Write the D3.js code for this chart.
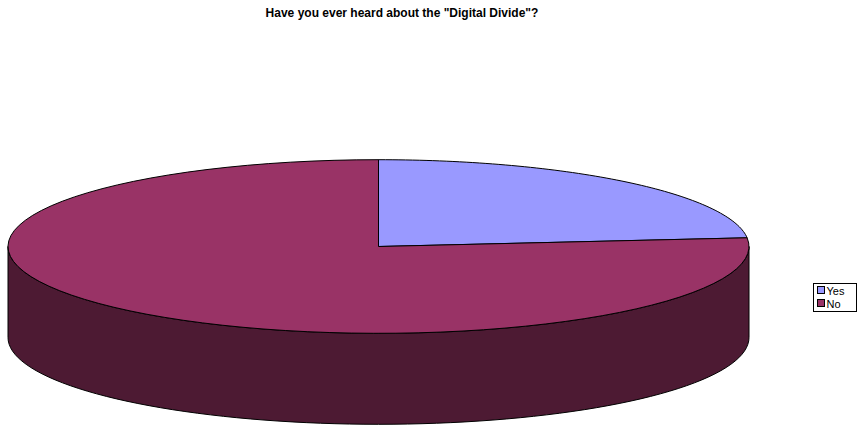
<!DOCTYPE html>
<html>
<head>
<meta charset="utf-8">
<script src="https://cdn.jsdelivr.net/npm/d3@7"></script>
<style>
  body { margin: 0; background: #fff; }
  svg { display: block; font-family: Arial, "Liberation Sans", sans-serif; }
</style>
</head>
<body>
<svg id="chart" width="858" height="426"></svg>
<script>
const title = 'Have you ever heard about the "Digital Divide"?';
const categories = ["Yes", "No"];
const values = [23.4, 76.6];
const topColors = ["#9999ff", "#993366"];
const sideColors = ["#4d4d80", "#4d1a33"];

const svg = d3.select("#chart");

svg.append("text")
  .attr("x", 402).attr("y", 17)
  .attr("text-anchor", "middle")
  .attr("font-size", 12).attr("font-weight", "bold")
  .text(title);

// 3D pie geometry
const cx = 378.5, cy = 246.5, rx = 370.5, ry = 86.8, depth = 91;

const pie = d3.pie().sort(null).value(d => d)(values);

// pie angle (from 12 o'clock, clockwise) -> point on ellipse
const px = a => cx + rx * Math.sin(a);
const py = (a, dy = 0) => cy - ry * Math.cos(a) + dy;

function arcPts(a0, a1, dy, n = 80) {
  return d3.range(n + 1).map(i => {
    const a = a0 + (a1 - a0) * i / n;
    return [px(a), py(a, dy)];
  });
}

const g = svg.append("g");

// visible side walls: front half, angles PI/2 .. 3PI/2
pie.forEach((s, i) => {
  const a0 = Math.max(s.startAngle, Math.PI / 2);
  const a1 = Math.min(s.endAngle, 3 * Math.PI / 2);
  if (a1 <= a0) return;
  const top = arcPts(a0, a1, 0);
  const bot = arcPts(a1, a0, depth);
  g.append("path")
    .attr("d", d3.line()(top.concat(bot)) + "Z")
    .attr("fill", sideColors[i])
    .attr("stroke", "#000").attr("stroke-width", 1);
});

// top faces
pie.forEach((s, i) => {
  const pts = [[cx, cy]].concat(arcPts(s.startAngle, s.endAngle, 0));
  g.append("path")
    .attr("d", d3.line()(pts) + "Z")
    .attr("fill", topColors[i])
    .attr("stroke", "#000").attr("stroke-width", 1)
    .attr("stroke-linejoin", "round");
});

// legend
const lg = svg.append("g").attr("transform", "translate(813.5,283.5)");
lg.append("rect").attr("width", 43).attr("height", 28)
  .attr("fill", "#fff").attr("stroke", "#000").attr("stroke-width", 1);
categories.forEach((c, i) => {
  const row = lg.append("g").attr("transform", `translate(4,${3 + i * 13})`);
  row.append("rect").attr("width", 7).attr("height", 7)
    .attr("fill", topColors[i]).attr("stroke", "#000").attr("stroke-width", 1);
  row.append("text").attr("x", 9).attr("y", 8)
    .attr("font-size", 11).text(c);
});
</script>
</body>
</html>
